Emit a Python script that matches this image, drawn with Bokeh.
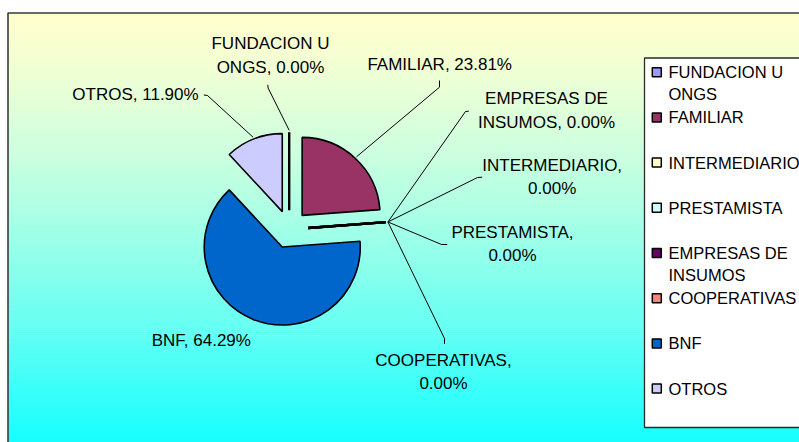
import textwrap
import numpy as np
from bokeh.plotting import figure
from bokeh.models import Range1d
from bokeh.core.properties import value
from bokeh.embed import file_html
from bokeh.resources import INLINE

# ---------------- data ----------------
categories = ["FUNDACION U ONGS", "FAMILIAR", "EMPRESAS DE INSUMOS", "INTERMEDIARIO",
              "PRESTAMISTA", "COOPERATIVAS", "BNF", "OTROS"]
values = [0.0, 23.81, 0.0, 0.0, 0.0, 0.0, 64.29, 11.90]
legend_order = ["FUNDACION U ONGS", "FAMILIAR", "INTERMEDIARIO", "PRESTAMISTA",
                "EMPRESAS DE INSUMOS", "COOPERATIVAS", "BNF", "OTROS"]
slice_colors = {
    "FUNDACION U ONGS": "#9999FF",
    "FAMILIAR": "#993366",
    "INTERMEDIARIO": "#FFFFCC",
    "PRESTAMISTA": "#CCFFFF",
    "EMPRESAS DE INSUMOS": "#660066",
    "COOPERATIVAS": "#FF8080",
    "BNF": "#0066CC",
    "OTROS": "#CCCCFF",
}

# ---------------- layout ----------------
W, H = 799, 442
FONT = value("Liberation Sans")
FS = "17px"
FS_LEG = "16.5px"

def px(x):  # page x -> data x
    return x

def py(y):  # page y -> data y
    return H - y

CX, CY = px(288.7), py(228.85)
R = 78.0
EXPLODE = 19.0

# label layout: centre x, first line y (page), wrap width, leader points (page) from label side
label_layout = {
    "FUNDACION U ONGS": (270, 43.3, 14, [(267.3, 84.3), (267.6, 87.5)]),
    "FAMILIAR": (439.2, 64.0, 20, [(439.0, 80.0), (439.0, 86.7)]),
    "EMPRESAS DE INSUMOS": (546.0, 98.3, 14, [(468.3, 110.7), (465.0, 111.0)]),
    "INTERMEDIARIO": (551.7, 165.0, 14, [(481.7, 176.7), (477.0, 177.0)]),
    "PRESTAMISTA": (512.0, 231.7, 14, [(446.7, 244.0), (441.0, 244.0)]),
    "COOPERATIVAS": (443.0, 360.0, 14, [(444.0, 343.3), (444.0, 338.0)]),
    "BNF": (200.8, 340.0, 20, None),
    "OTROS": (135.0, 94.3, 20, [(203.3, 94.5), (207.0, 95.0)]),
}
LINE_GAP = 23.2

p = figure(width=W, height=H, x_range=Range1d(0, W), y_range=Range1d(0, H),
           output_backend="svg", toolbar_location=None, min_border=0,
           x_axis_type=None, y_axis_type=None)
p.grid.visible = False
p.outline_line_color = None
p.background_fill_color = "white"
p.border_fill_color = "white"

# ---- gradient chart area (yellow -> cyan) ----
top_page, bot_page = 12.5, 446.0
n = 218
edges = np.linspace(top_page, bot_page, n + 1)
grad_cols = []
for i in range(n):
    t = (i + 0.5) / n
    r = 255 - 237 * t ** 1.35
    g = 255
    b = 204 + 51 * t ** 0.9
    grad_cols.append("#%02x%02x%02x" % (int(round(r)), g, int(round(b))))
p.quad(left=px(7.5), right=W + 20, top=[py(e) for e in edges[:-1]],
       bottom=[py(e) - 0.6 for e in edges[1:]], fill_color=grad_cols, line_color=None)
p.quad(left=px(7.5), right=W + 20, top=py(12.5), bottom=-20, fill_color=None,
       line_color="#3a3a3a", line_width=1.6)

# ---- pie ----
vals = np.array(values, dtype=float)
total = vals.sum()
cum = np.concatenate([[0.0], np.cumsum(vals)])
start_deg = 90 - cum[:-1] / total * 360
end_deg = 90 - cum[1:] / total * 360
mid_rad = np.deg2rad((start_deg + end_deg) / 2)

wx, wy, ws, we, wc = [], [], [], [], []
zx0, zy0, zx1, zy1 = [], [], [], []
for i, c in enumerate(categories):
    ox = CX + EXPLODE * np.cos(mid_rad[i])
    oy = CY + EXPLODE * np.sin(mid_rad[i])
    if vals[i] > 0:
        wx.append(ox); wy.append(oy)
        ws.append(start_deg[i]); we.append(end_deg[i]); wc.append(slice_colors[c])
    else:
        zx0.append(ox); zy0.append(oy)
        zx1.append(CX + (EXPLODE + R) * np.cos(mid_rad[i]))
        zy1.append(CY + (EXPLODE + R) * np.sin(mid_rad[i]))

p.wedge(x=wx, y=wy, radius=R, start_angle=ws, end_angle=we, start_angle_units="deg",
        end_angle_units="deg", direction="clock", fill_color=wc, line_color="black",
        line_width=1.6)
p.segment(x0=zx0, y0=zy0, x1=zx1, y1=zy1, line_color="black", line_width=2.4)

# ---- leader lines and labels ----
lead_xs, lead_ys = [], []
tx, ty, tt = [], [], []
for i, c in enumerate(categories):
    cx, y1, ww, pts = label_layout[c]
    text = f"{c}, {values[i]:.2f}%"
    lines = textwrap.wrap(text, ww, break_long_words=False)
    for k, ln in enumerate(lines):
        tx.append(px(cx)); ty.append(py(y1 + k * LINE_GAP)); tt.append(ln)
    if pts is not None:
        ex = CX + (EXPLODE + R + 2) * np.cos(mid_rad[i])
        ey = CY + (EXPLODE + R + 2) * np.sin(mid_rad[i])
        lead_xs.append([px(a) for a, _ in pts] + [ex])
        lead_ys.append([py(b) for _, b in pts] + [ey])

p.multi_line(xs=lead_xs, ys=lead_ys, line_color="black", line_width=1)
p.text(x=tx, y=ty, text=tt, text_font=FONT, text_font_size=FS, text_align="center",
       text_baseline="middle", text_color="black")

# ---- legend ----
p.quad(left=px(644), right=W + 20, top=py(57.5), bottom=py(427), fill_color="white",
       line_color="#2a2a2a", line_width=1.3)
leg_y0, leg_step = 71.7, 45.2
mx, my, mc, lx, ly, lt = [], [], [], [], [], []
for j, c in enumerate(legend_order):
    yy = leg_y0 + j * leg_step
    mx.append(px(656.3)); my.append(py(yy)); mc.append(slice_colors[c])
    for k, ln in enumerate(textwrap.wrap(c, 12, break_long_words=False)):
        lx.append(px(668)); ly.append(py(yy + k * 22)); lt.append(ln)
p.scatter(x=mx, y=my, marker="square", size=9, fill_color=mc, line_color="black",
          line_width=1.5)
p.text(x=lx, y=ly, text=lt, text_font=FONT, text_font_size=FS_LEG, text_align="left",
       text_baseline="middle", text_color="black")

open("out.html", "w").write(file_html(p, INLINE))
